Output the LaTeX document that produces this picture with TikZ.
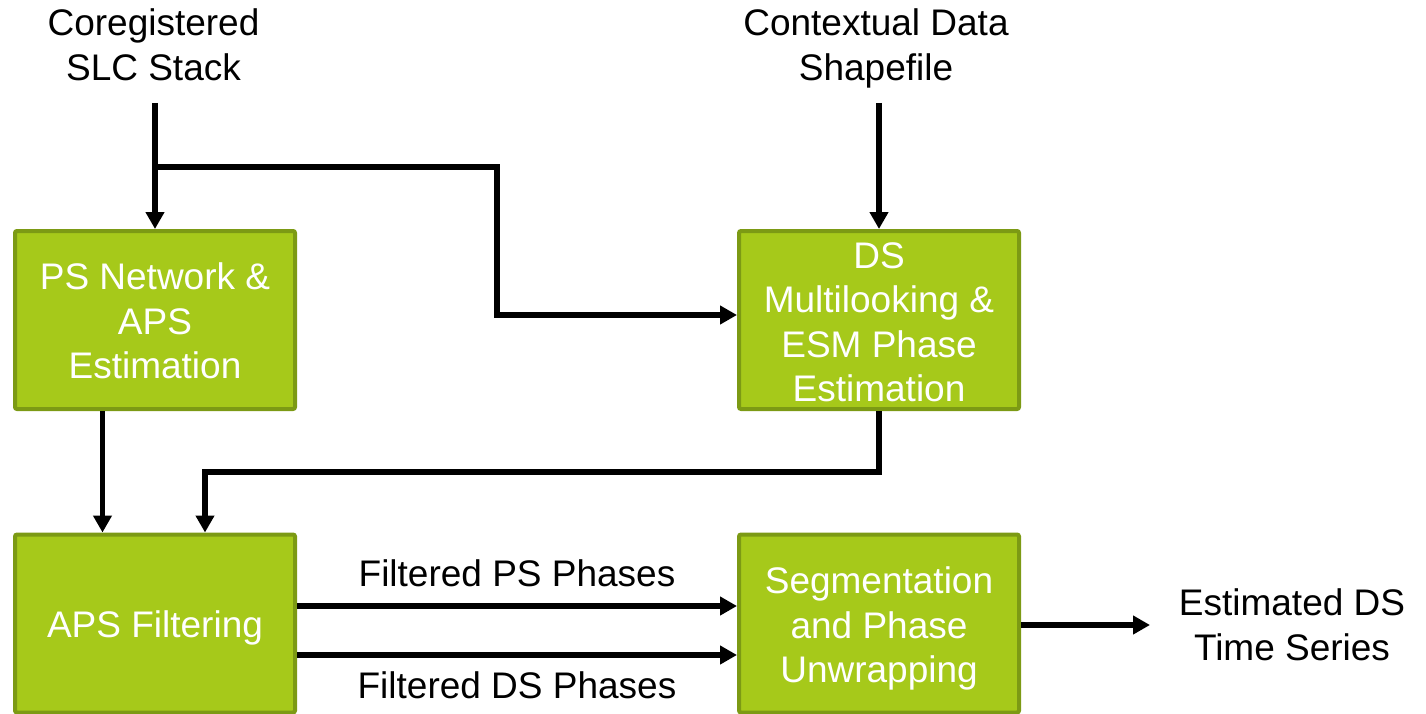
\documentclass[tikz,border=0pt]{standalone}
\usepackage{fontspec}
\setmainfont{Liberation Sans}
\usetikzlibrary{arrows.meta,calc}
\definecolor{boxfill}{RGB}{166,201,26}
\definecolor{boxedge}{RGB}{124,154,20}
\begin{document}
\begin{tikzpicture}[x=1pt,y=-1pt,
  every node/.style={font=\fontsize{37}{44.5}\selectfont},
  procbox/.style={draw=boxedge, fill=boxfill, line width=4pt, rounded corners=2pt,
    minimum width=280pt, minimum height=178pt, inner sep=0pt},
  boxtext/.style={inner sep=0pt, text=white, align=center},
  lbl/.style={inner sep=0pt, text=black, align=center},
  arr/.style={line width=5.5pt, -{Triangle[length=17pt,width=18pt]}}]
\useasboundingbox (0,0) rectangle (1426,714);

% processing blocks
\node[procbox] (psnet) at (155,320) {};
\node[procbox] (dsml)  at (879,320) {};
\node[procbox] (apsf)  at (155,623.5) {};
\node[procbox] (segm)  at (879,623.5) {};

% block captions
\node[boxtext] (psnettxt) at ($(psnet.center)+(0,1)$) {PS Network \&\\APS\\Estimation};
\node[boxtext] (dsmltxt)  at ($(dsml.center)+(0,2.5)$) {DS\\Multilooking \&\\ESM Phase\\Estimation};
\node[boxtext] (apsftxt)  at ($(apsf.center)+(0,4)$) {APS Filtering};
\node[boxtext] (segmtxt)  at ($(segm.center)+(0,5)$) {Segmentation\\and Phase\\Unwrapping};

% inputs and output
\node[lbl, anchor=north] (slc) at (153.5,8.5) {Coregistered\\SLC Stack};
\node[lbl, anchor=north] (ctx) at (876,8.5) {Contextual Data\\Shapefile};
\node[lbl, anchor=north] (ests) at (1292,588.5) {Estimated DS\\Time Series};

% edge labels
\node[lbl, anchor=base] (lps) at (517,586) {Filtered PS Phases};
\node[lbl, anchor=base] (lds) at (517,698) {Filtered DS Phases};

% connector anchor points
\coordinate (slcfoot) at (155,103);
\coordinate (split) at (155,167);
\coordinate (bend) at (497,315);
\coordinate (ctxfoot) at (879,103);
\coordinate (back) at (205,472);
\coordinate (psrow) at (0,606);
\coordinate (dsrow) at (0,655);
\coordinate (outrow) at (0,625);
\coordinate (outend) at (1150,625);

% connectors
\draw[arr] (slcfoot) -- (psnet.north);
\draw[arr] (split) -| (bend) -- (bend -| dsml.west);
\draw[arr] (ctxfoot) -- (dsml.north);
\draw[arr] ([xshift=-52.5pt]psnet.south) -- ([xshift=-52.5pt]apsf.north);
\draw[arr] (dsml.south) |- (back) -- (back |- apsf.north);
\draw[arr] (apsf.east |- psrow) -- (segm.west |- psrow);
\draw[arr] (apsf.east |- dsrow) -- (segm.west |- dsrow);
\draw[arr] (segm.east |- outrow) -- (outend);
\end{tikzpicture}
\end{document}
